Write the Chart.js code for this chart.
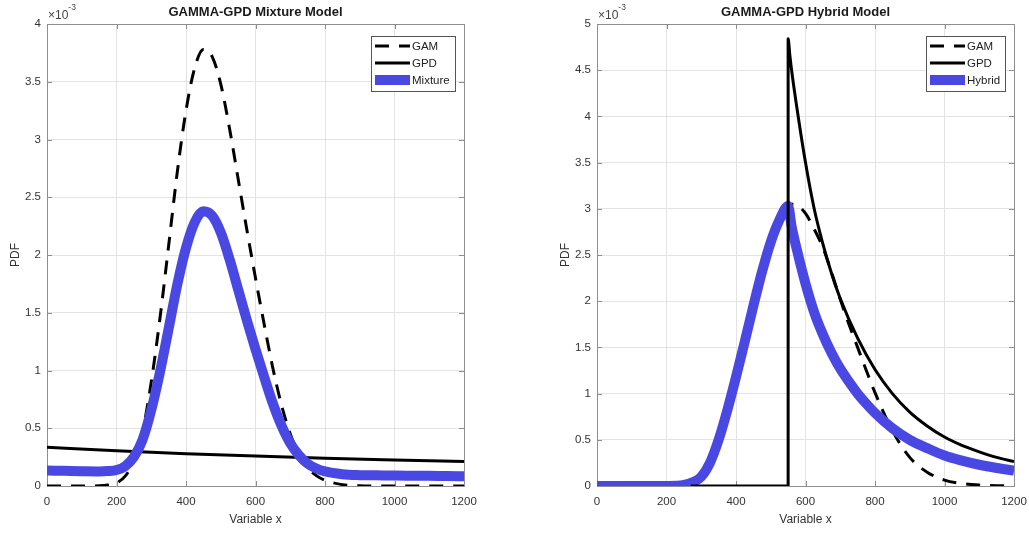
<!DOCTYPE html>
<html>
<head>
<meta charset="utf-8">
<script src="https://cdn.jsdelivr.net/npm/chart.js@4.4.1/dist/chart.umd.min.js"></script>
<style>
  html, body { margin: 0; padding: 0; background: #fff; overflow: hidden; }
  .panel { position: absolute; top: 0; width: 500px; height: 533px; }
  #left { left: 0; }
  #right { left: 550px; }
</style>
</head>
<body>
<div class="panel" id="left"><canvas id="mixChart" width="500" height="533"></canvas></div>
<div class="panel" id="right"><canvas id="hybChart" width="500" height="533"></canvas></div>
<script>
// pdf values are in units of 1e-3 (axis shows the x10^-3 multiplier)
const mixX = [0, 50, 100, 150, 175, 200, 225, 250, 275, 300, 325, 350, 375, 400, 425,
  450, 475, 500, 525, 550, 575, 600, 625, 650, 675, 700, 725, 750, 775, 800,
  850, 900, 950, 1000, 1050, 1100, 1150, 1200];
const mixGam = [0, 0, 0, 0.002, 0.008, 0.026, 0.085, 0.22, 0.47, 0.9, 1.45, 2.08, 2.72, 3.25, 3.62,
  3.78, 3.72, 3.48, 3.1, 2.66, 2.22, 1.8, 1.4, 1.02, 0.7, 0.45, 0.28, 0.16, 0.09, 0.05,
  0.012, 0.002, 0, 0, 0, 0, 0, 0];
const mixture = [0.134, 0.131, 0.128, 0.126, 0.129, 0.138, 0.172, 0.251, 0.40, 0.657, 0.985, 1.362, 1.745, 2.062, 2.283,
  2.378, 2.341, 2.196, 1.967, 1.702, 1.437, 1.184, 0.943, 0.714, 0.521, 0.37, 0.267, 0.194, 0.151, 0.126,
  0.102, 0.094, 0.092, 0.09, 0.089, 0.088, 0.086, 0.085];
const mixGpdX = [0, 200, 400, 600, 800, 1000, 1200];
const mixGpd = [0.335, 0.305, 0.28, 0.259, 0.241, 0.226, 0.212];

const hybX = [0, 100, 200, 250, 275, 300, 325, 350, 375, 400, 425, 450, 475, 500, 525,
  550, 560, 575, 600, 625, 650, 675, 700, 725, 750, 775, 800, 850, 900, 950,
  1000, 1050, 1100, 1150, 1200];
const hybrid = [0, 0, 0.001, 0.012, 0.04, 0.1, 0.25, 0.5, 0.82, 1.18, 1.56, 1.95, 2.32, 2.64, 2.88,
  3.03, 2.81, 2.56, 2.19, 1.88, 1.64, 1.44, 1.27, 1.13, 1.0, 0.89, 0.79, 0.625, 0.5, 0.41,
  0.33, 0.275, 0.23, 0.195, 0.166];
const hybGam = [0, 0, 0.001, 0.012, 0.04, 0.1, 0.25, 0.5, 0.82, 1.18, 1.56, 1.95, 2.32, 2.64, 2.88,
  3.03, 3.05, 3.04, 2.95, 2.78, 2.58, 2.31, 2.02, 1.75, 1.5, 1.25, 1.01, 0.6, 0.31, 0.15,
  0.064, 0.027, 0.01, 0.003, 0.001];
const hybGpdX = [270, 550, 550, 555, 560, 575, 600, 625, 650, 675, 700, 750, 800, 850, 900, 950,
  1000, 1050, 1100, 1150, 1200];
const hybGpd = [0, 0, 4.84, 4.66, 4.5, 4.1, 3.5, 3.0, 2.62, 2.3, 2.03, 1.6, 1.26, 1.0, 0.8, 0.65,
  0.53, 0.44, 0.37, 0.31, 0.265];

const xTicks = [0, 200, 400, 600, 800, 1000, 1200];

const FONT = "'Liberation Sans', Arial, Helvetica, sans-serif";
const BLUE = "#4a48e2";

Chart.defaults.font.family = FONT;
Chart.defaults.font.size = 11.5;
Chart.defaults.color = "#333";
Chart.defaults.animation = false;

const pts = (xs, ys) => xs.map((x, i) => ({ x: x, y: ys[i] }));

// axes box with inward tick marks on all four sides, plus the exponent label
const boxAxes = {
  id: "boxAxes",
  beforeDatasetsDraw(chart) {
    const { ctx, chartArea: a, scales: { x, y } } = chart;
    ctx.save();
    ctx.strokeStyle = "#8e8e8e";
    ctx.lineWidth = 1;
    ctx.strokeRect(Math.round(a.left) + 0.5, Math.round(a.top) + 0.5,
      Math.round(a.right - a.left), Math.round(a.bottom - a.top));
    ctx.beginPath();
    x.ticks.forEach(t => {
      const px = Math.round(x.getPixelForValue(t.value)) + 0.5;
      ctx.moveTo(px, a.bottom); ctx.lineTo(px, a.bottom - 5);
      ctx.moveTo(px, a.top); ctx.lineTo(px, a.top + 5);
    });
    y.ticks.forEach(t => {
      const py = Math.round(y.getPixelForValue(t.value)) + 0.5;
      ctx.moveTo(a.left, py); ctx.lineTo(a.left + 5, py);
      ctx.moveTo(a.right, py); ctx.lineTo(a.right - 5, py);
    });
    ctx.stroke();
    ctx.restore();
  },
  afterDraw(chart) {
    const { ctx, chartArea: a } = chart;
    ctx.save();
    ctx.fillStyle = "#444";
    ctx.textBaseline = "alphabetic";
    ctx.font = "12px " + FONT;
    const base = "\u00d710";
    ctx.fillText(base, a.left + 1, a.top - 5);
    const w = ctx.measureText(base).width;
    ctx.font = "8.5px " + FONT;
    ctx.fillText("-3", a.left + 1 + w, a.top - 14);
    ctx.restore();
  }
};

// boxed legend in the upper right corner of the plot area
const boxLegend = {
  id: "boxLegend",
  afterDraw(chart) {
    const { ctx, chartArea: a } = chart;
    const sets = chart.data.datasets;
    ctx.save();
    ctx.font = "11.5px " + FONT;
    const textW = Math.max(...sets.map(d => ctx.measureText(d.label).width));
    const w = Math.round(41 + textW + 5);
    const h = 55;
    const left = Math.round(a.right - 9 - w);
    const top = Math.round(a.top + 12);
    ctx.fillStyle = "#fff";
    ctx.fillRect(left, top, w, h);
    ctx.strokeStyle = "#555";
    ctx.lineWidth = 1;
    ctx.strokeRect(left + 0.5, top + 0.5, w, h);
    sets.forEach((d, i) => {
      const cy = top + 10 + i * 17;
      ctx.beginPath();
      ctx.setLineDash(d.borderDash || []);
      ctx.lineWidth = d.borderWidth;
      ctx.strokeStyle = d.borderColor;
      ctx.moveTo(left + 4, cy);
      ctx.lineTo(left + 39, cy);
      ctx.stroke();
      ctx.setLineDash([]);
      ctx.fillStyle = "#222";
      ctx.textBaseline = "middle";
      ctx.fillText(d.label, left + 41, cy + 0.5);
    });
    ctx.restore();
  }
};

function makeChart(id, title, yMax, datasets) {
  return new Chart(document.getElementById(id), {
    type: "line",
    data: { datasets: datasets },
    options: {
      responsive: false,
      layout: { padding: { left: 0, right: 36, top: 0, bottom: 0 } },
      elements: {
        point: { radius: 0 },
        line: { cubicInterpolationMode: "monotone", fill: false, borderCapStyle: "butt", borderJoinStyle: "round" }
      },
      plugins: {
        legend: { display: false },
        tooltip: { enabled: false },
        title: {
          display: true,
          text: title,
          fullSize: false,
          color: "#1a1a1a",
          font: { size: 13, weight: "bold" },
          padding: { top: 5, bottom: 3.4 }
        }
      },
      scales: {
        x: {
          type: "linear",
          min: 0,
          max: 1200,
          afterBuildTicks: s => { s.ticks = xTicks.map(v => ({ value: v })); },
          afterFit: s => { s.height = 47; },
          ticks: { padding: 9, maxRotation: 0, callback: v => String(v) },
          grid: { color: "#e3e3e3", drawTicks: false },
          border: { display: false },
          title: { display: true, text: "Variable x", font: { size: 12 }, color: "#333", padding: { top: 0, bottom: 6 } }
        },
        y: {
          min: 0,
          max: yMax,
          ticks: { stepSize: 0.5, padding: 6, callback: v => String(v) },
          afterFit: s => { s.width = 47; },
          grid: { color: "#e3e3e3", drawTicks: false },
          border: { display: false },
          title: { display: true, text: "PDF", font: { size: 12 }, color: "#333", padding: { top: 8, bottom: 0 } }
        }
      }
    },
    plugins: [boxAxes, boxLegend]
  });
}

makeChart("mixChart", "GAMMA-GPD Mixture Model", 4, [
  { label: "GAM", data: pts(mixX, mixGam), borderColor: "#000", borderWidth: 3, borderDash: [14, 10], order: 2 },
  { label: "GPD", data: pts(mixGpdX, mixGpd), borderColor: "#000", borderWidth: 3, order: 1 },
  { label: "Mixture", data: pts(mixX, mixture), borderColor: BLUE, borderWidth: 10, order: 0 }
]);

makeChart("hybChart", "GAMMA-GPD Hybrid Model", 5, [
  { label: "GAM", data: pts(hybX, hybGam), borderColor: "#000", borderWidth: 3, borderDash: [14, 10], order: 2 },
  { label: "GPD", data: pts(hybGpdX, hybGpd), borderColor: "#000", borderWidth: 3, order: 0 },
  { label: "Hybrid", data: pts(hybX, hybrid), borderColor: BLUE, borderWidth: 10, order: 1 }
]);
</script>
</body>
</html>
